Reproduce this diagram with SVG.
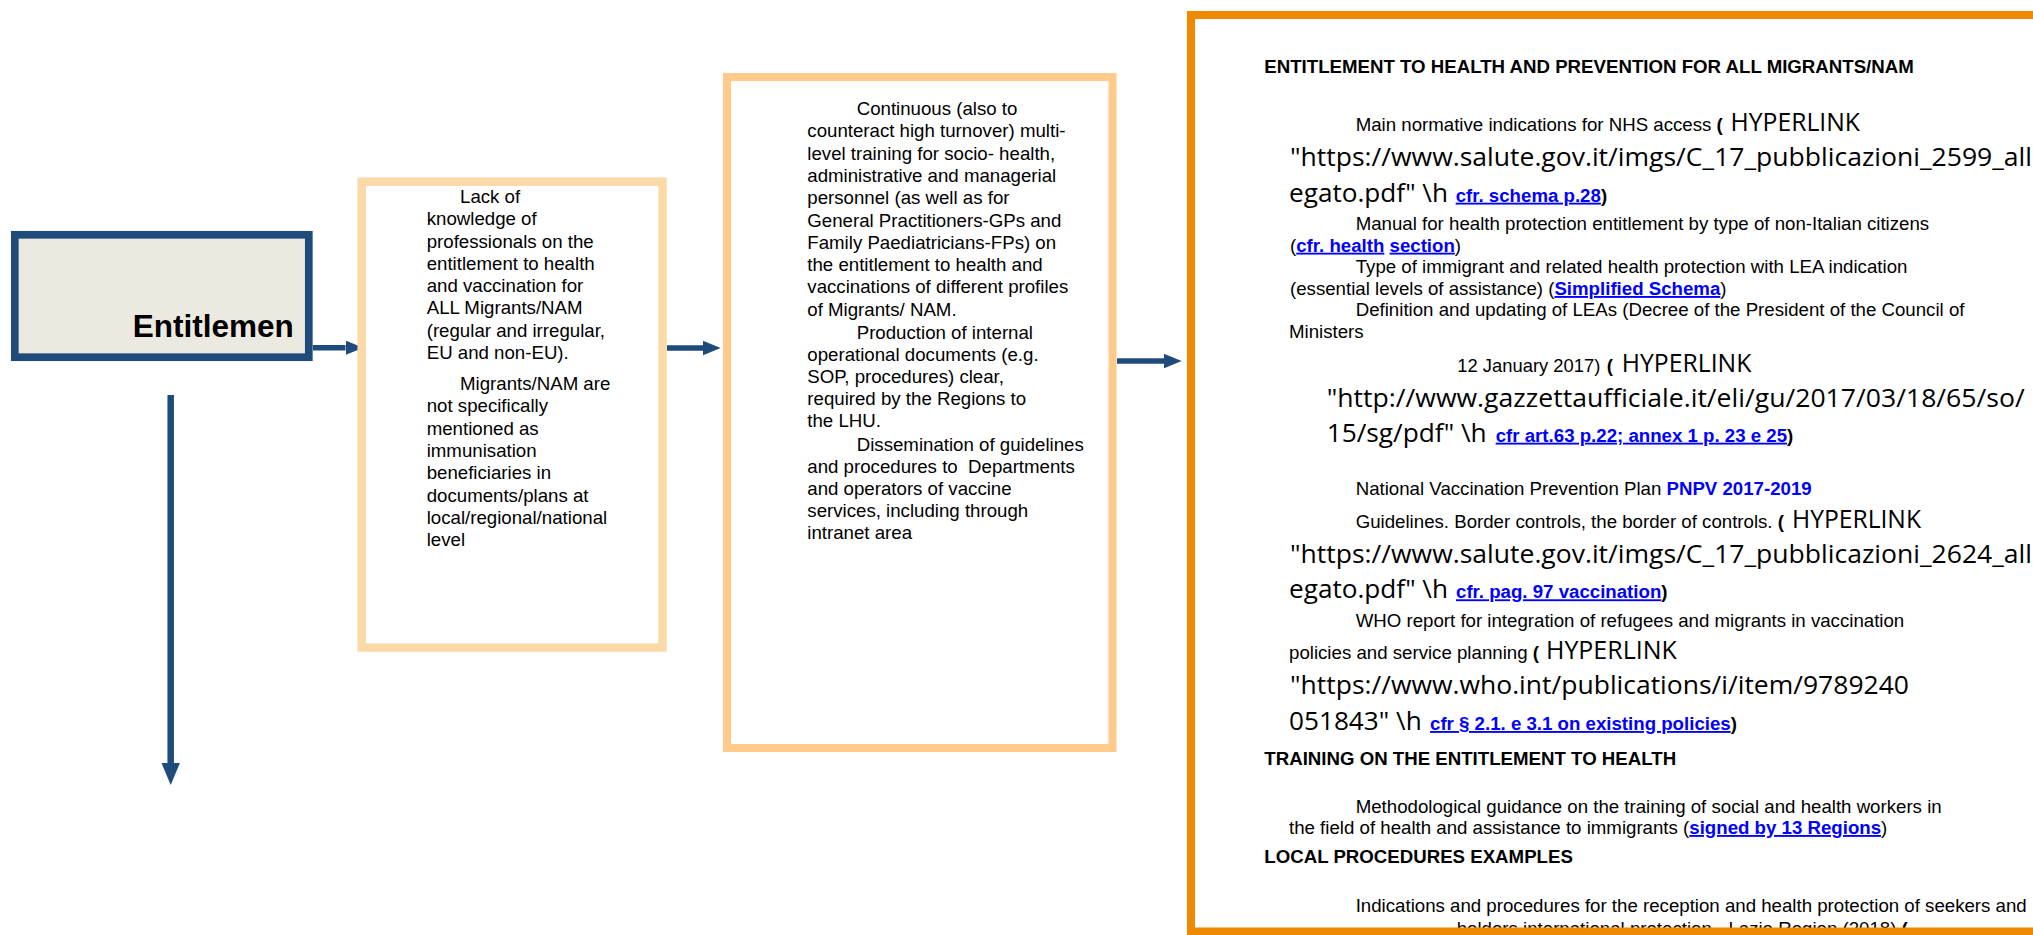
<svg xmlns="http://www.w3.org/2000/svg" width="2033" height="935" viewBox="0 0 2033 935">
<defs>
<marker id="ah" markerUnits="userSpaceOnUse" markerWidth="18" markerHeight="15" refX="0" refY="7.2" orient="auto"><path d="M0,0 L17.7,7.2 L0,14.4 Z" fill="#1F4A7C"/></marker>
<marker id="ahL" markerUnits="userSpaceOnUse" markerWidth="23" markerHeight="19" refX="0" refY="9.2" orient="auto"><path d="M0,0 L22,9.2 L0,18.4 Z" fill="#1F4A7C"/></marker>
</defs>
<style>
.t{font-family:"Liberation Sans",Arial,sans-serif;font-size:18.67px;fill:#000}
.b{font-weight:bold}
.lk{font-weight:bold;fill:#0000FF;text-decoration:underline}
.bl{font-weight:bold;fill:#0000FF}
.cal{font-family:"Open Sans","Liberation Sans",sans-serif;font-size:26px;fill:#000}
.conn{stroke:#1F4A7C;fill:none}
.pre{white-space:pre}
</style>
<rect x="0" y="0" width="2033" height="935" fill="#FFFFFF"/>

<g id="connectors">
<path class="conn" d="M313,347.7 H345.5" stroke-width="5.5" marker-end="url(#ah)"/>
<path class="conn" d="M667,348 H703" stroke-width="5.5" marker-end="url(#ah)"/>
<path class="conn" d="M1117,361 H1164" stroke-width="5.5" marker-end="url(#ah)"/>
<path class="conn" d="M170.7,395 V763" stroke-width="6.5" marker-end="url(#ahL)"/>
</g>

<g id="entitlement">
<rect x="14.8" y="234.8" width="294" height="122.4" fill="#ECEAE0" stroke="#1F4A7C" stroke-width="7.7"/>
<text class="t b" x="132.7" y="336.7" style="font-size:31.5px">Entitlemen</text>
</g>

<g id="knowledge-gap">
<rect x="361.7" y="181.7" width="300.8" height="465.8" fill="#FFFFFF" stroke="#FCDAA8" stroke-width="8.5"/>
<text class="t" x="460" y="203.3">Lack of</text>
<text class="t" x="426.7" y="225.3">knowledge of</text>
<text class="t" x="426.7" y="247.7">professionals on the</text>
<text class="t" x="426.7" y="270">entitlement to health</text>
<text class="t" x="426.7" y="292">and vaccination for</text>
<text class="t" x="426.7" y="314">ALL Migrants/NAM</text>
<text class="t" x="426.7" y="336.7">(regular and irregular,</text>
<text class="t" x="426.7" y="358.7">EU and non-EU).</text>
<text class="t" x="460" y="390">Migrants/NAM are</text>
<text class="t" x="426.7" y="412.3">not specifically</text>
<text class="t" x="426.7" y="435">mentioned as</text>
<text class="t" x="426.7" y="457.3">immunisation</text>
<text class="t" x="426.7" y="479.3">beneficiaries in</text>
<text class="t" x="426.7" y="501.7">documents/plans at</text>
<text class="t" x="426.7" y="524">local/regional/national</text>
<text class="t" x="426.7" y="546">level</text>
</g>

<g id="training">
<rect x="727" y="77" width="385.5" height="671" fill="#FFFFFF" stroke="#FFCA8A" stroke-width="8"/>
<text class="t" x="856.7" y="115.3">Continuous (also to</text>
<text class="t" x="807.3" y="137.3">counteract high turnover) multi-</text>
<text class="t" x="807.3" y="159.8">level training for socio- health,</text>
<text class="t" x="807.3" y="182.2">administrative and managerial</text>
<text class="t" x="807.3" y="204.2">personnel (as well as for</text>
<text class="t" x="807.3" y="226.7">General Practitioners-GPs and</text>
<text class="t" x="807.3" y="248.7">Family Paediatricians-FPs) on</text>
<text class="t" x="807.3" y="271.1">the entitlement to health and</text>
<text class="t" x="807.3" y="293.2">vaccinations of different profiles</text>
<text class="t" x="807.3" y="315.6">of Migrants/ NAM.</text>
<text class="t" x="856.7" y="338.5">Production of internal</text>
<text class="t" x="807.3" y="361.4">operational documents (e.g.</text>
<text class="t" x="807.3" y="383.4">SOP, procedures) clear,</text>
<text class="t" x="807.3" y="405.4">required by the Regions to</text>
<text class="t" x="807.3" y="427.4">the LHU.</text>
<text class="t" x="856.7" y="451.2">Dissemination of guidelines</text>
<text class="t pre" x="807.3" y="473.2">and procedures to  Departments</text>
<text class="t" x="807.3" y="495.2">and operators of vaccine</text>
<text class="t" x="807.3" y="517.2">services, including through</text>
<text class="t" x="807.3" y="539.2">intranet area</text>
</g>

<g id="references">
<rect x="1191" y="15" width="860" height="916.5" fill="#FFFFFF"/>
<text class="t b" x="1264.3" y="72.7">ENTITLEMENT TO HEALTH AND PREVENTION FOR ALL MIGRANTS/NAM</text>

<text class="t pre" x="1355.7" y="131">Main normative indications for NHS access <tspan class="b">(</tspan></text>
<text class="cal" x="1730.6" y="131" textLength="129.4" lengthAdjust="spacingAndGlyphs">HYPERLINK</text>
<text class="cal" x="1290" y="165.7" textLength="742" lengthAdjust="spacingAndGlyphs">"https://www.salute.gov.it/imgs/C_17_pubblicazioni_2599_all</text>
<text class="cal" x="1289" y="201.7" textLength="159" lengthAdjust="spacingAndGlyphs">egato.pdf" \h</text>
<text class="t" x="1455.7" y="201.7"><tspan class="lk">cfr. schema p.28</tspan><tspan class="b">)</tspan></text>

<text class="t" x="1355.7" y="230">Manual for health protection entitlement by type of non-Italian citizens</text>
<text class="t pre" x="1290" y="251.7">(<tspan class="lk">cfr. health</tspan><tspan class="b"> </tspan><tspan class="lk">section</tspan>)</text>
<text class="t" x="1355.7" y="273.3">Type of immigrant and related health protection with LEA indication</text>
<text class="t" x="1290" y="295">(essential levels of assistance) (<tspan class="lk">Simplified Schema</tspan>)</text>
<text class="t" x="1355.7" y="316">Definition and updating of LEAs (Decree of the President of the Council of</text>
<text class="t" x="1289" y="338.3">Ministers</text>

<text class="t" x="1457.3" y="371.7" textLength="143" lengthAdjust="spacingAndGlyphs">12 January 2017)</text>
<text class="t b" x="1606.7" y="371.7">(</text>
<text class="cal" x="1621.8" y="371.7" textLength="129.5" lengthAdjust="spacingAndGlyphs">HYPERLINK</text>
<text class="cal" x="1326.7" y="406.7" textLength="698" lengthAdjust="spacingAndGlyphs">"http://www.gazzettaufficiale.it/eli/gu/2017/03/18/65/so/</text>
<text class="cal" x="1326.7" y="441.7" textLength="160" lengthAdjust="spacingAndGlyphs">15/sg/pdf" \h</text>
<text class="t" x="1495.7" y="441.7"><tspan class="lk">cfr art.63 p.22; annex 1 p. 23 e 25</tspan><tspan class="b">)</tspan></text>

<text class="t pre" x="1355.7" y="495">National Vaccination Prevention Plan <tspan class="bl">PNPV 2017-2019</tspan></text>
<text class="t pre" x="1355.7" y="527.7">Guidelines. Border controls, the border of controls. <tspan class="b">(</tspan></text>
<text class="cal" x="1792" y="527.7" textLength="129" lengthAdjust="spacingAndGlyphs">HYPERLINK</text>
<text class="cal" x="1290" y="563.3" textLength="742" lengthAdjust="spacingAndGlyphs">"https://www.salute.gov.it/imgs/C_17_pubblicazioni_2624_all</text>
<text class="cal" x="1289" y="598.3" textLength="159" lengthAdjust="spacingAndGlyphs">egato.pdf" \h</text>
<text class="t" x="1456" y="598.3"><tspan class="lk">cfr. pag. 97 vaccination</tspan><tspan class="b">)</tspan></text>

<text class="t" x="1355.7" y="626.7">WHO report for integration of refugees and migrants in vaccination</text>
<text class="t pre" x="1289" y="659.3">policies and service planning <tspan class="b">(</tspan></text>
<text class="cal" x="1546" y="659.3" textLength="130.7" lengthAdjust="spacingAndGlyphs">HYPERLINK</text>
<text class="cal" x="1290" y="694" textLength="619" lengthAdjust="spacingAndGlyphs">"https://www.who.int/publications/i/item/9789240</text>
<text class="cal" x="1289" y="730" textLength="132.7" lengthAdjust="spacingAndGlyphs">051843" \h</text>
<text class="t" x="1430" y="730"><tspan class="lk">cfr § 2.1. e 3.1 on existing policies</tspan><tspan class="b">)</tspan></text>

<text class="t b" x="1264.3" y="765">TRAINING ON THE ENTITLEMENT TO HEALTH</text>
<text class="t" x="1355.7" y="813.3">Methodological guidance on the training of social and health workers in</text>
<text class="t" x="1289" y="834">the field of health and assistance to immigrants (<tspan class="lk">signed by 13 Regions</tspan>)</text>
<text class="t b" x="1264.3" y="863.3">LOCAL PROCEDURES EXAMPLES</text>
<text class="t" x="1355.7" y="912.3">Indications and procedures for the reception and health protection of seekers and</text>
<text class="t pre" x="1456.7" y="935">holders international protection - Lazio Region (2018) <tspan class="b">(</tspan></text>

<rect x="1191" y="15" width="860" height="916.5" fill="none" stroke="#EE8900" stroke-width="8"/>
</g>
</svg>
